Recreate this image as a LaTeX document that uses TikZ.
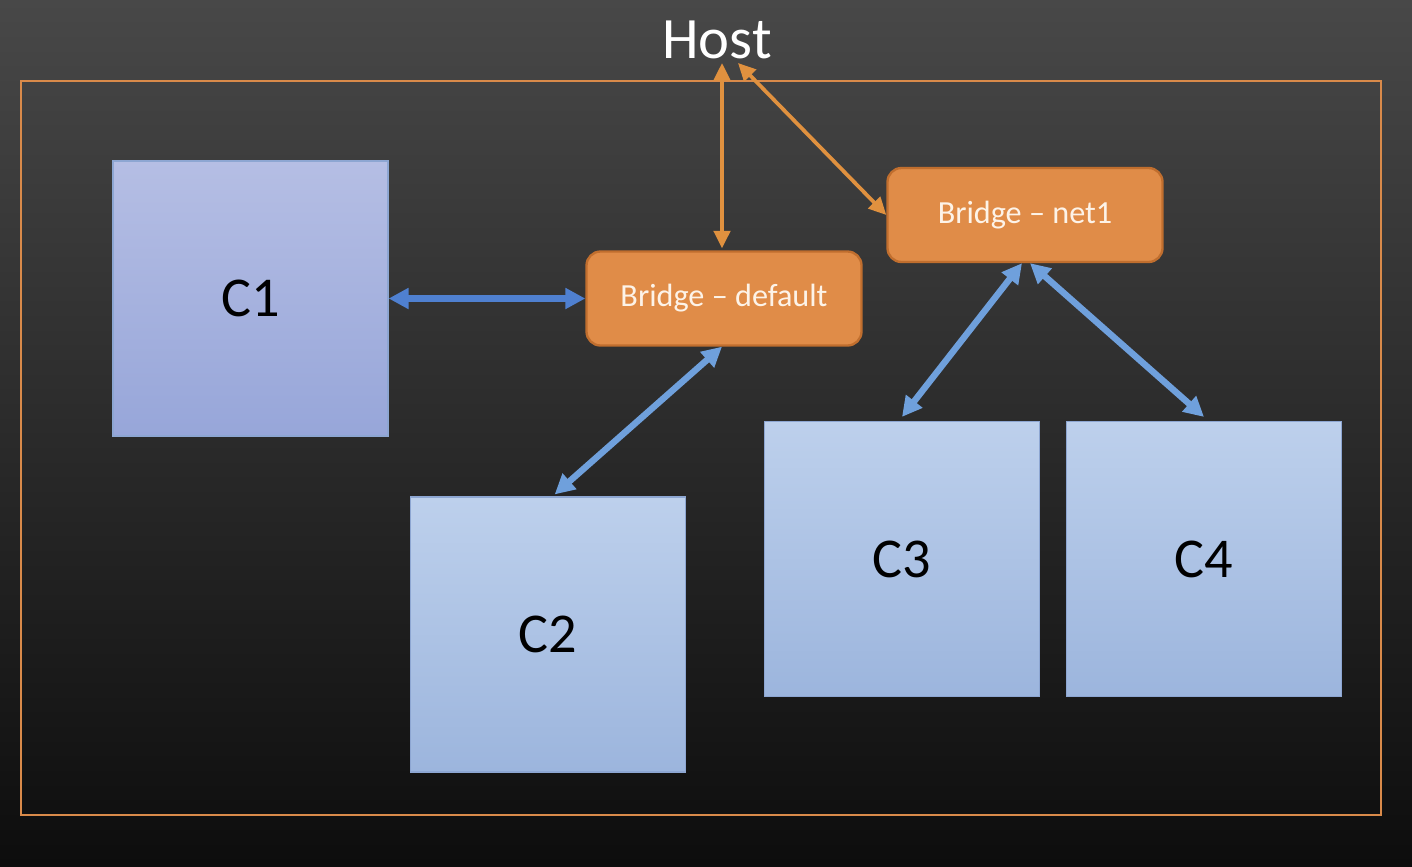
\documentclass[tikz,border=0pt]{standalone}
\usepackage{fontspec}
\setmainfont{Carlito}
\usepackage{tikz}
\usetikzlibrary{arrows.meta}
\usetikzlibrary{calc}

\definecolor{bgtop}{HTML}{484848}
\definecolor{bgbot}{HTML}{0D0D0D}
\definecolor{frameor}{HTML}{D98A4A}
\definecolor{bridgefill}{HTML}{E08C48}
\definecolor{bridgeline}{HTML}{C06E2E}
\definecolor{bridgetext}{HTML}{FDF3E8}
\definecolor{ctop}{HTML}{BDD0EC}
\definecolor{cbot}{HTML}{9CB5DD}
\definecolor{cline}{HTML}{8DA6D2}
\definecolor{cpurtop}{HTML}{B5BEE4}
\definecolor{cpurbot}{HTML}{97A6D9}
\definecolor{linkblue}{HTML}{6FA0DC}
\definecolor{linkdark}{HTML}{4F80D0}
\definecolor{linkor}{HTML}{E0913F}

\tikzset{
  container/.style={draw=cline, line width=1pt, top color=ctop, bottom color=cbot,
    minimum width=8.25cm, minimum height=8.25cm, inner sep=0pt,
    font=\fontsize{48}{52}\selectfont, text=black},
  bridge/.style={draw=bridgeline, line width=2pt, fill=bridgefill, rounded corners=0.42cm,
    minimum width=8.25cm, minimum height=2.82cm, inner sep=0pt,
    font=\fontsize{27.5}{32}\selectfont, text=bridgetext},
  bluelink/.style={draw=linkblue, line width=5.5pt,
    {Triangle[length=17pt,width=17pt]}-{Triangle[length=17pt,width=17pt]}},
  orlink/.style={draw=linkor, line width=3.2pt,
    {Triangle[length=15pt,width=14pt]}-{Triangle[length=15pt,width=14pt]}}
}

\begin{document}
\begin{tikzpicture}[x=0.03cm, y=-0.03cm]
    % background and host frame
    \shade[top color=bgtop, bottom color=bgbot] (0,0) rectangle (1412,866);
    \useasboundingbox (0,0) rectangle (1412,866);
    \draw[frameor, line width=1.7pt] (21,81) rectangle (1381,815);

    \node[text=white, font=\fontsize{50}{56}\selectfont, inner sep=0pt] (host) at (717,40) {Host};
    \coordinate (hostv) at (722,63);
    \coordinate (hostd) at (738,63);

    % bridges
    \node[bridge] (bdef) at (724,298.5) {Bridge -- default};
    \node[bridge] (bnet) at (1025,215) {Bridge -- net1};

    % containers
    \node[container, top color=cpurtop, bottom color=cpurbot] (c1) at (250.5,298.5) {C1};
    \node[container] (c2) at (548,634.5) {C2};
    \node[container] (c3) at (902,559) {C3};
    \node[container] (c4) at (1204,559) {C4};

    % links
    \draw[bluelink, draw=linkdark] (c1.east) -- (bdef.west);
    \draw[bluelink] ([xshift=-0.06cm]bdef.south) -- ([xshift=0.2cm,yshift=0.06cm]c2.north);
    \draw[bluelink] ([xshift=-0.09cm]bnet.south) -- ([yshift=0.12cm]c3.north);
    \draw[bluelink] ([xshift=0.15cm]bnet.south) -- ([yshift=0.12cm]c4.north);
    \draw[orlink] (hostv) -- ([yshift=0.06cm]bdef.north -| hostv);
    \draw[orlink] (hostd) -- (bnet.west);
\end{tikzpicture}
\end{document}
